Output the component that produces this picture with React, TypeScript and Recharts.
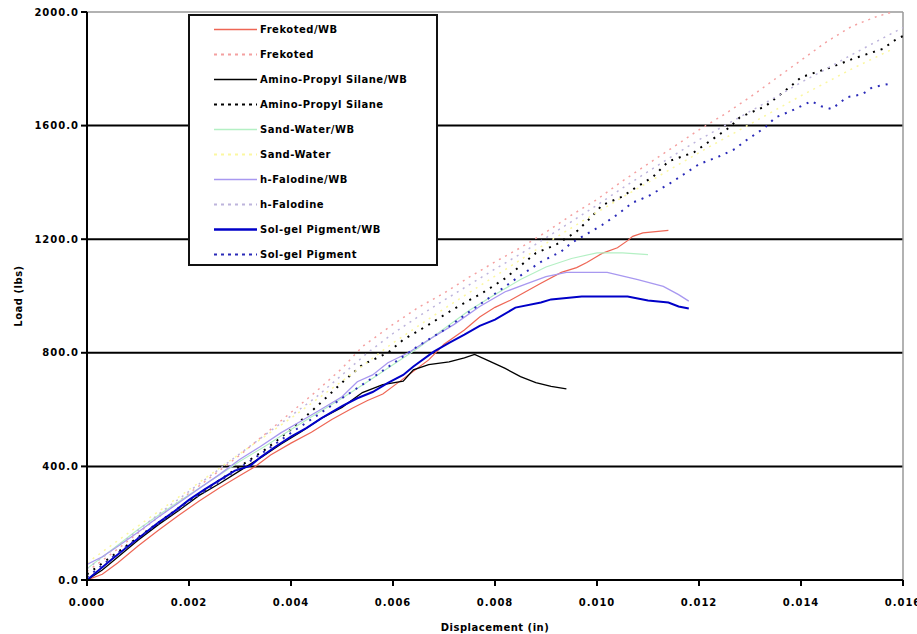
import React from 'react';
import { LineChart, Line, XAxis, YAxis, ReferenceLine, Legend } from 'recharts';

const xTicks = [0, 0.002, 0.004, 0.006, 0.008, 0.01, 0.012, 0.014, 0.016];
const yTicks = [0, 400, 800, 1200, 1600, 2000];
const gridValues = [400, 800, 1200, 1600];

const seriesNames = [
  'Frekoted/WB',
  'Frekoted',
  'Amino-Propyl Silane/WB',
  'Amino-Propyl Silane',
  'Sand-Water/WB',
  'Sand-Water',
  'h-Falodine/WB',
  'h-Falodine',
  'Sol-gel Pigment/WB',
  'Sol-gel Pigment',
];

const frekotedWB: [number, number][] = [
  [0, 0], [0.0003, 20], [0.0006, 60], [0.001, 120], [0.0014, 175], [0.0018, 228], [0.0022, 278],
  [0.0026, 325], [0.003, 368], [0.0033, 400], [0.0036, 440], [0.004, 482], [0.0044, 520], [0.0048, 565],
  [0.0052, 605], [0.0055, 632], [0.0058, 655], [0.0061, 695], [0.0064, 735], [0.0067, 775], [0.007, 830],
  [0.0074, 880], [0.0077, 926], [0.008, 960], [0.0083, 985], [0.0086, 1015], [0.0089, 1045], [0.0093, 1083],
  [0.0096, 1100], [0.0098, 1118], [0.0101, 1150], [0.0104, 1170], [0.0106, 1195], [0.0107, 1210],
  [0.0109, 1222], [0.0114, 1231],
];

const frekoted: [number, number][] = [
  [0, 30], [0.0005, 95], [0.001, 165], [0.0015, 235], [0.002, 305], [0.0025, 372], [0.003, 440],
  [0.0035, 515], [0.004, 590], [0.0045, 665], [0.005, 745], [0.0054, 822], [0.006, 900], [0.0065, 960],
  [0.007, 1010], [0.0075, 1067], [0.008, 1120], [0.0085, 1170], [0.009, 1225], [0.0095, 1285], [0.01, 1340],
  [0.0105, 1405], [0.011, 1465], [0.0115, 1525], [0.012, 1585], [0.0125, 1640], [0.013, 1700],
  [0.0135, 1765], [0.014, 1830], [0.0145, 1895], [0.015, 1950], [0.0155, 1985], [0.0158, 2000],
];

const aminoWB: [number, number][] = [
  [0, 0], [0.0003, 35], [0.0006, 80], [0.001, 140], [0.0014, 195], [0.0018, 245], [0.0022, 298],
  [0.0026, 340], [0.003, 385], [0.0034, 430], [0.0038, 478], [0.0042, 522], [0.0046, 570], [0.005, 608],
  [0.0054, 660], [0.0058, 688], [0.0062, 700], [0.0064, 740], [0.0067, 758], [0.0071, 768], [0.0074, 782],
  [0.0076, 794], [0.0079, 770], [0.0082, 745], [0.0085, 716], [0.0088, 695], [0.0091, 682], [0.0094, 673],
];

const amino: [number, number][] = [
  [0, 20], [0.0005, 85], [0.001, 150], [0.0015, 215], [0.002, 280], [0.0025, 340], [0.003, 400],
  [0.0035, 460], [0.004, 530], [0.0045, 610], [0.005, 695], [0.0054, 758], [0.0059, 800], [0.0062, 846],
  [0.0067, 899], [0.0072, 955], [0.0078, 1016], [0.0082, 1062], [0.0088, 1151], [0.0092, 1181],
  [0.0096, 1227], [0.0099, 1280], [0.0101, 1320], [0.0105, 1350], [0.0107, 1375], [0.0111, 1420],
  [0.0114, 1474], [0.0119, 1506], [0.0126, 1594], [0.0128, 1629], [0.0133, 1668], [0.0138, 1739],
  [0.014, 1770], [0.0146, 1806], [0.015, 1834], [0.0156, 1870], [0.0159, 1908], [0.016, 1915],
];

const sandWB: [number, number][] = [
  [0, 40], [0.0005, 108], [0.001, 178], [0.0015, 240], [0.002, 300], [0.0025, 358], [0.003, 418],
  [0.0035, 472], [0.004, 530], [0.0045, 585], [0.005, 640], [0.0055, 698], [0.006, 758], [0.0065, 818],
  [0.007, 885], [0.0075, 950], [0.008, 1005], [0.0085, 1058], [0.009, 1102], [0.0095, 1132], [0.01, 1152],
  [0.0105, 1152], [0.011, 1146],
];

const sand: [number, number][] = [
  [0, 60], [0.001, 190], [0.002, 318], [0.003, 445], [0.004, 570], [0.005, 700], [0.006, 835],
  [0.007, 955], [0.008, 1070], [0.009, 1185], [0.01, 1295], [0.011, 1400], [0.012, 1505], [0.013, 1605],
  [0.014, 1705], [0.015, 1800], [0.0158, 1870],
];

const alodineWB: [number, number][] = [
  [0, 55], [0.0003, 82], [0.0006, 118], [0.001, 168], [0.0014, 222], [0.0018, 272], [0.0022, 322],
  [0.0026, 372], [0.003, 425], [0.0034, 470], [0.0038, 518], [0.0042, 560], [0.0046, 602], [0.005, 645],
  [0.0053, 698], [0.0056, 722], [0.0059, 765], [0.0063, 800], [0.0067, 846], [0.0072, 900], [0.0077, 963],
  [0.0082, 1015], [0.0086, 1042], [0.009, 1068], [0.0094, 1083], [0.0102, 1083], [0.0108, 1058],
  [0.0113, 1034], [0.0116, 1005], [0.0118, 982],
];

const alodine: [number, number][] = [
  [0, 40], [0.0005, 105], [0.001, 175], [0.0015, 245], [0.002, 312], [0.0025, 378], [0.003, 445],
  [0.0035, 512], [0.004, 578], [0.0045, 645], [0.005, 722], [0.0055, 800], [0.006, 868], [0.0065, 928],
  [0.007, 985], [0.0075, 1040], [0.008, 1095], [0.0085, 1148], [0.009, 1205], [0.0095, 1262], [0.01, 1320],
  [0.0105, 1380], [0.011, 1438], [0.0115, 1495], [0.012, 1550], [0.0125, 1600], [0.013, 1650],
  [0.0135, 1700], [0.014, 1752], [0.0145, 1800], [0.015, 1850], [0.0155, 1898], [0.016, 1945],
];

const solgelWB: [number, number][] = [
  [0, 0], [0.0002, 30], [0.0005, 75], [0.0008, 118], [0.0011, 160], [0.0014, 202], [0.0017, 240],
  [0.002, 282], [0.0023, 318], [0.0026, 352], [0.0029, 385], [0.0032, 402], [0.0034, 432], [0.0037, 470],
  [0.004, 505], [0.0043, 535], [0.0046, 570], [0.005, 612], [0.0053, 640], [0.0056, 662], [0.0059, 694],
  [0.0062, 722], [0.0064, 752], [0.0068, 804], [0.0071, 835], [0.0074, 864], [0.0077, 895], [0.008, 917],
  [0.0084, 959], [0.0089, 977], [0.0091, 988], [0.0097, 998], [0.0106, 998], [0.011, 984], [0.0114, 977],
  [0.0116, 963], [0.0118, 956],
];

const solgel: [number, number][] = [
  [0, 10], [0.0005, 80], [0.001, 148], [0.0015, 212], [0.002, 275], [0.0025, 335], [0.003, 395],
  [0.0035, 455], [0.004, 518], [0.0045, 578], [0.005, 640], [0.0055, 700], [0.006, 762], [0.0065, 825],
  [0.007, 880], [0.0075, 945], [0.008, 1008], [0.0085, 1072], [0.0089, 1120], [0.0093, 1157],
  [0.0095, 1187], [0.0101, 1250], [0.0104, 1287], [0.0107, 1329], [0.011, 1351], [0.0114, 1393],
  [0.012, 1464], [0.0124, 1492], [0.0127, 1517], [0.0129, 1545], [0.0133, 1594], [0.0135, 1629],
  [0.0138, 1651], [0.0142, 1686], [0.0144, 1668], [0.0146, 1658], [0.0149, 1700], [0.0152, 1710],
  [0.0154, 1735], [0.0157, 1746],
];

const seriesValues = [frekotedWB, frekoted, aminoWB, amino, sandWB, sand, alodineWB, alodine, solgelWB, solgel];

const seriesStyles = [
  { color: '#ee6655', dash: undefined, width: 1.2 },
  { color: '#f4a0a0', dash: '2 5', width: 1.5 },
  { color: '#000000', dash: undefined, width: 1.3 },
  { color: '#000000', dash: '2 6', width: 2 },
  { color: '#b4f0c4', dash: undefined, width: 1.2 },
  { color: '#fbf7a0', dash: '2 5', width: 1.5 },
  { color: '#a898f0', dash: undefined, width: 1.3 },
  { color: '#bdb4dc', dash: '2 5', width: 1.5 },
  { color: '#0000c8', dash: undefined, width: 2 },
  { color: '#2a2ab8', dash: '2 6', width: 2 },
];

const FONT = "'DejaVu Sans', sans-serif";

const tickStyle = { fontSize: 10, fontFamily: FONT, fontWeight: 'bold', fill: '#000', letterSpacing: 1 };

function LegendBox() {
  return (
    <div
      style={{
        width: 250,
        height: 252,
        boxSizing: 'border-box',
        border: '2px solid #111',
        background: '#fff',
        paddingTop: 1,
        fontFamily: FONT,
        fontWeight: 'bold',
        fontSize: 10,
        letterSpacing: 0.5,
        color: '#000',
      }}
    >
      {seriesNames.map((name, i) => {
        const s = seriesStyles[i];
        return (
          <div key={name} style={{ height: 25, display: 'flex', alignItems: 'center' }}>
            <svg width={70} height={25} style={{ display: 'block', flexShrink: 0 }}>
              <line
                x1={24}
                x2={67}
                y1={12.5}
                y2={12.5}
                stroke={s.color}
                strokeWidth={s.dash ? 2 : s.width + 0.3}
                strokeDasharray={s.dash ? '3 4' : undefined}
              />
            </svg>
            <span style={{ whiteSpace: 'nowrap' }}>{name}</span>
          </div>
        );
      })}
    </div>
  );
}

export default function App() {
  return (
    <div style={{ position: 'absolute', left: 0, top: 0, width: 917, height: 634, background: '#fff' }}>
      <LineChart width={917} height={634} margin={{ top: 12, right: 14, bottom: 0, left: 0 }}>
        <XAxis
          dataKey="x"
          type="number"
          domain={[0, 0.016]}
          ticks={xTicks}
          allowDataOverflow
          tickFormatter={(v: number) => v.toFixed(3)}
          tick={tickStyle}
          tickSize={6}
          tickMargin={13}
          height={54}
          stroke="#000"
          strokeWidth={2}
          interval={0}
          label={{
            value: 'Displacement (in)',
            position: 'insideBottom',
            offset: 3,
            style: { fontSize: 10, fontFamily: FONT, fontWeight: 'bold', fill: '#000', letterSpacing: 0.5 },
          }}
        />
        <YAxis
          type="number"
          domain={[0, 2000]}
          ticks={yTicks}
          allowDataOverflow
          tickFormatter={(v: number) => v.toFixed(1)}
          tick={tickStyle}
          tickSize={6}
          width={87}
          stroke="#000"
          strokeWidth={2}
          interval={0}
          label={{
            value: 'Load (lbs)',
            angle: -90,
            position: 'insideLeft',
            offset: 18,
            style: { textAnchor: 'middle', fontSize: 10, fontFamily: FONT, fontWeight: 'bold', fill: '#000', letterSpacing: 0.5 },
          }}
        />
        {gridValues.map((v) => (
          <ReferenceLine key={v} y={v} stroke="#000" strokeWidth={2} />
        ))}
        <ReferenceLine y={2000} stroke="#999" strokeWidth={1.5} />
        <ReferenceLine x={0.016} stroke="#999" strokeWidth={1.5} />
        {seriesValues.map((vals, i) => (
          <Line
            key={seriesNames[i]}
            name={seriesNames[i]}
            data={vals.map(([x, y]) => ({ x, y }))}
            dataKey="y"
            type="linear"
            stroke={seriesStyles[i].color}
            strokeWidth={seriesStyles[i].width}
            strokeDasharray={seriesStyles[i].dash}
            dot={false}
            activeDot={false}
            isAnimationActive={false}
          />
        ))}
        <Legend
          layout="vertical"
          align="center"
          verticalAlign="middle"
          wrapperStyle={{ position: 'absolute', left: 188, top: 14, width: 250, height: 252 }}
          content={() => <LegendBox />}
        />
      </LineChart>
    </div>
  );
}
